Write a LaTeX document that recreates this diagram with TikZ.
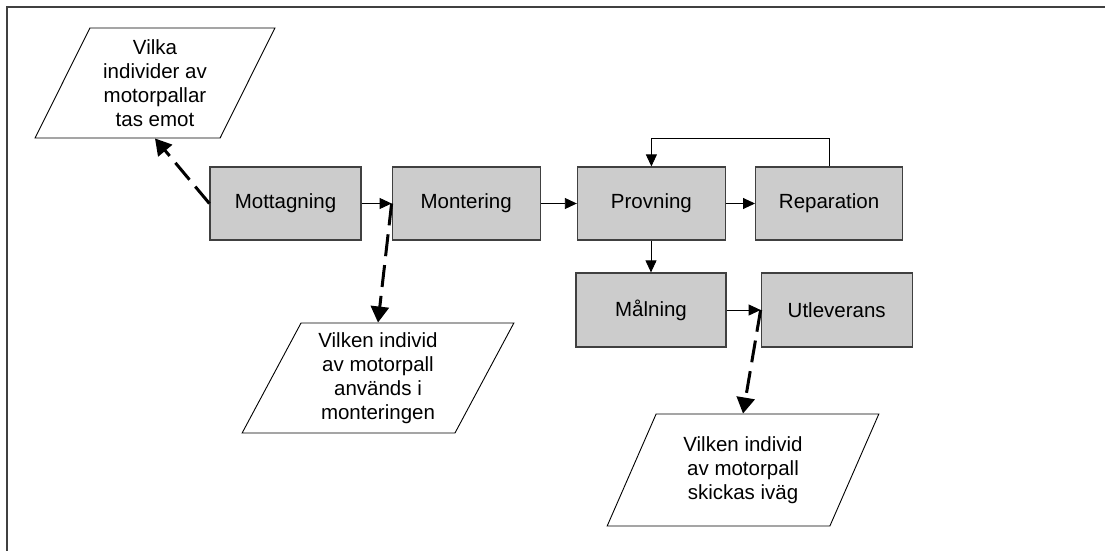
\documentclass[tikz,border=0pt]{standalone}
\usepackage{fontspec}
\setmainfont{Liberation Sans}
\usepackage{tikz}
\usetikzlibrary{arrows.meta,positioning,shapes.geometric}

\definecolor{boxgray}{RGB}{204,204,204}
\definecolor{edgegray}{RGB}{64,64,64}

\begin{document}
\begin{tikzpicture}[x=1pt, y=-1pt,
  font=\fontsize{20.5}{24}\selectfont,
  process/.style={rectangle, draw=edgegray, line width=1.2pt, fill=boxgray, minimum width=148pt, minimum height=73pt, inner sep=0pt},
  record/.style={trapezium, trapezium left angle=63.4, trapezium right angle=116.6, trapezium stretches=true, draw, line width=0.9pt, minimum width=272pt, minimum height=110pt, inner sep=0pt, align=center},
  flow/.style={-{Triangle[length=12pt, width=11pt]}, line width=0.9pt},
  trace/.style={-{Triangle[length=16pt, width=18pt]}, line width=3pt, dash pattern=on 22pt off 9pt}
]
\useasboundingbox (0,0) rectangle (1105,551);
\draw[draw=edgegray, line width=1.3pt] (7,551) -- (7,7) -- (1105,7);

% process chain
\node[process, minimum width=151pt] (mott) at (285.5,203.5) {Mottagning};
\node[process, right=30pt of mott] (mont) {Montering};
\node[process, right=36pt of mont] (prov) {Provning};
\node[process, minimum width=147pt, right=29pt of prov] (rep) {Reparation};
\node[process, minimum width=150pt, minimum height=74pt] (maln) at (651,310) {Målning};
\node[process, minimum width=151pt, minimum height=74pt, right=34pt of maln] (utlev) {Utleverans};

\draw[flow] (mott) -- (mont);
\draw[flow] (mont) -- (prov);
\draw[flow] (prov) -- (rep);
\draw[flow] (rep.north) -- ++(0,-28) -| (prov.north);
\draw[flow] (prov.south -| maln.north) -- (maln.north);
\draw[flow] (maln) -- (utlev);

% information about the pallets
\node[record, minimum width=240pt] (recv) at (155,83) {Vilka\\individer av\\motorpallar\\tas emot};
\node[record] (used) at (378,378) {Vilken individ\\av motorpall\\används i\\monteringen};
\node[record, minimum height=112pt] (sent) at (743,470) {Vilken individ\\av motorpall\\skickas iväg};

\draw[trace] (mott.west) -- (recv.south);
\draw[trace] (mont.west) -- (used.north);
\draw[trace] (utlev.west) -- (sent.north);
\end{tikzpicture}
\end{document}
